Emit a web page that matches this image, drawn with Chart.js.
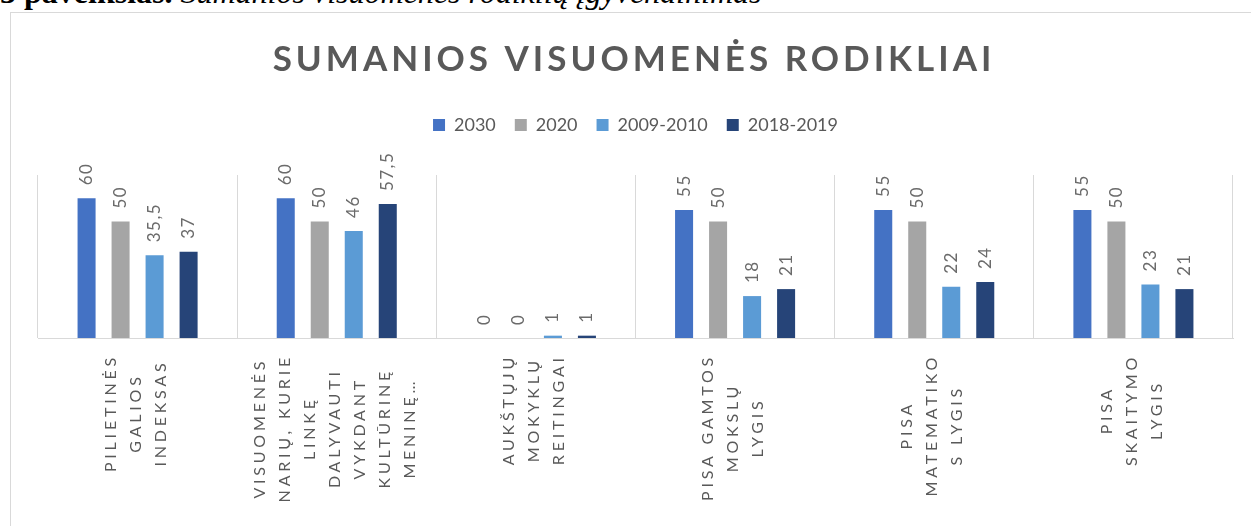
<!DOCTYPE html>
<html lang="lt">
<head>
<meta charset="utf-8">
<title>Sumanios visuomenės rodikliai</title>
<script src="https://cdn.jsdelivr.net/npm/chart.js@4.4.1/dist/chart.umd.min.js"></script>
<style>
  html, body { margin: 0; padding: 0; background: #fff; }
  body { width: 1251px; height: 526px; overflow: hidden; position: relative; }
  #caption {
    position: absolute; left: 0; top: -24px; white-space: nowrap;
    font-family: "Liberation Serif", "Times New Roman", serif;
    font-size: 32px; line-height: 32px; color: #000;
  }
  #frame {
    position: absolute; left: 10px; top: 12px; width: 1260px; height: 530px;
    border: 1px solid #d9d9d9; box-sizing: border-box;
  }
  #myChart { position: absolute; left: 11px; top: 13px; }
</style>
</head>
<body>
<div id="caption"><b>3 paveikslas.</b> <i>Sumanios visuomenės rodiklių įgyvendinimas</i></div>
<div id="frame"></div>
<canvas id="myChart" width="1240" height="513"></canvas>
<script>
// chart data
const chartTitle = 'SUMANIOS VISUOMENĖS RODIKLIAI';
const categories = [
    ['PILIETINĖS', 'GALIOS', 'INDEKSAS'],
    ['VISUOMENĖS', 'NARIŲ, KURIE', 'LINKĘ', 'DALYVAUTI', 'VYKDANT', 'KULTŪRINĘ', 'MENINĘ…'],
    ['AUKŠTŲJŲ', 'MOKYKLŲ', 'REITINGAI'],
    ['PISA GAMTOS', 'MOKSLŲ', 'LYGIS'],
    ['PISA', 'MATEMATIKO', 'S LYGIS'],
    ['PISA', 'SKAITYMO', 'LYGIS']
];
const seriesNames = ['2030', '2020', '2009-2010', '2018-2019'];
const values2030 = [60, 60, 0, 55, 55, 55];
const values2020 = [50, 50, 0, 50, 50, 50];
const values2009 = [35.5, 46, 1, 18, 22, 23];
const values2018 = [37, 57.5, 1, 21, 24, 21];
const seriesColors = ['#4472C4', '#A5A5A5', '#5B9BD5', '#264478'];

const grey = '#595959';
Chart.defaults.font.family = 'Lato, "Open Sans", sans-serif';

// extra room below the legend
const legendGap = {
    id: 'legendGap',
    beforeInit(chart) {
        const fit = chart.legend.fit;
        chart.legend.fit = function () {
            fit.bind(chart.legend)();
            this.height += 31;
        };
    }
};

// big spaced title
const spacedTitle = {
    id: 'spacedTitle',
    afterDraw(chart) {
        const ctx = chart.ctx;
        ctx.save();
        ctx.font = 'bold 35px Lato, sans-serif';
        ctx.letterSpacing = '4px';
        ctx.fillStyle = grey;
        ctx.textAlign = 'center';
        ctx.textBaseline = 'alphabetic';
        ctx.fillText(chartTitle, chart.width / 2 + 3, 58);
        ctx.restore();
    }
};

// value labels, rotated, above each bar
const valueLabels = {
    id: 'valueLabels',
    afterDatasetsDraw(chart) {
        const ctx = chart.ctx;
        ctx.save();
        ctx.font = '17px Lato, sans-serif';
        ctx.letterSpacing = '1.5px';
        ctx.fillStyle = '#6b6b6b';
        ctx.textAlign = 'left';
        ctx.textBaseline = 'middle';
        chart.data.datasets.forEach((ds, di) => {
            chart.getDatasetMeta(di).data.forEach((bar, i) => {
                const txt = String(ds.data[i]).replace('.', ',');
                ctx.save();
                ctx.translate(bar.x, bar.y - 13);
                ctx.rotate(-Math.PI / 2);
                ctx.fillText(txt, 0, 0);
                ctx.restore();
            });
        });
        ctx.restore();
    }
};

// multi-line rotated category labels
const categoryLabels = {
    id: 'categoryLabels',
    afterDraw(chart) {
        const ctx = chart.ctx;
        const xScale = chart.scales.x;
        const lineGap = 25;
        ctx.save();
        ctx.font = '16px Lato, sans-serif';
        ctx.letterSpacing = '3.8px';
        ctx.fillStyle = grey;
        ctx.textAlign = 'center';
        ctx.textBaseline = 'middle';
        categories.forEach((lines, i) => {
            const cx = xScale.getPixelForValue(i) - 2;
            const maxLen = Math.max(...lines.map(l => ctx.measureText(l).width));
            const cy = chart.chartArea.bottom + 16 + maxLen / 2;
            lines.forEach((line, j) => {
                ctx.save();
                ctx.translate(cx + (j - (lines.length - 1) / 2) * lineGap, cy);
                ctx.rotate(-Math.PI / 2);
                ctx.fillText(line, 0, 0);
                ctx.restore();
            });
        });
        ctx.restore();
    }
};

const allValues = [values2030, values2020, values2009, values2018];

new Chart(document.getElementById('myChart').getContext('2d'), {
    type: 'bar',
    data: {
        labels: categories.map(c => c.join(' ')),
        datasets: seriesNames.map((name, k) => ({
            label: name,
            data: allValues[k],
            backgroundColor: seriesColors[k],
            borderWidth: 0,
            categoryPercentage: 0.683,
            barPercentage: 0.53
        }))
    },
    options: {
        responsive: false,
        animation: false,
        devicePixelRatio: 1,
        layout: { padding: { top: 84, bottom: 188, left: 27, right: 18 } },
        plugins: {
            title: { display: false },
            tooltip: { enabled: false },
            legend: {
                position: 'top',
                labels: {
                    boxWidth: 12,
                    boxHeight: 12,
                    padding: 19,
                    color: grey,
                    font: { size: 18 }
                }
            }
        },
        scales: {
            x: {
                grid: { color: '#d9d9d9', drawTicks: false, offset: true },
                border: { color: '#d9d9d9' },
                ticks: { display: false }
            },
            y: {
                display: false,
                min: 0,
                max: 70
            }
        }
    },
    plugins: [legendGap, spacedTitle, valueLabels, categoryLabels]
});
</script>
</body>
</html>
